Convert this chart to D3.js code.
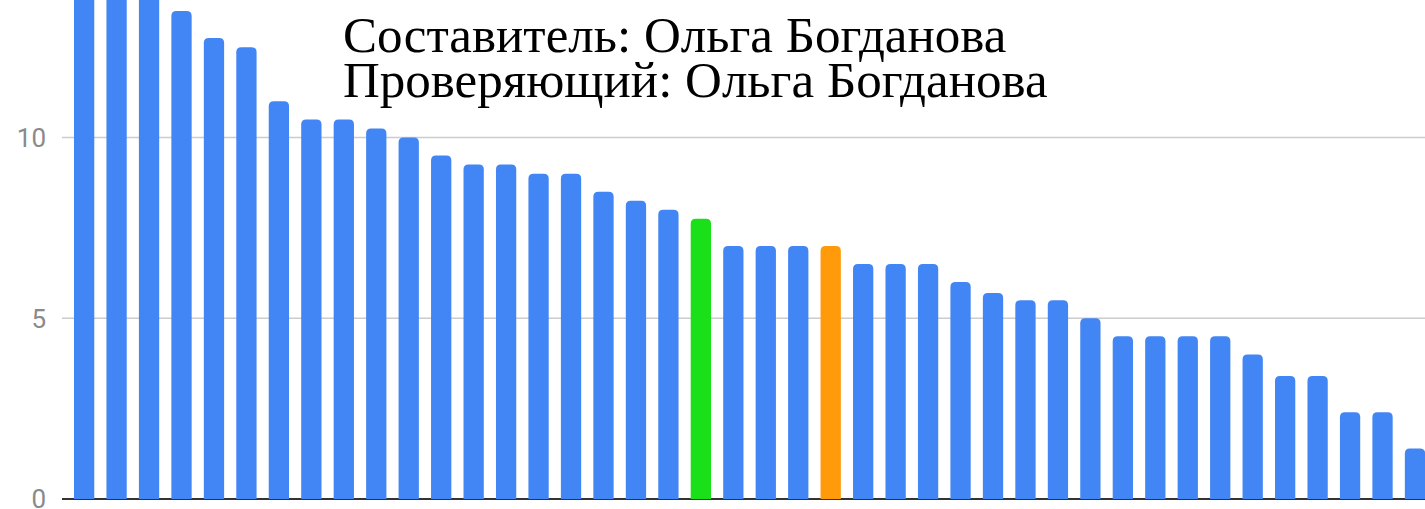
<!DOCTYPE html>
<html>
<head>
<meta charset="utf-8">
<script src="https://cdn.jsdelivr.net/npm/d3@7"></script>
<style>
  html, body { margin: 0; padding: 0; background: #fff; overflow: hidden; }
  svg { display: block; }
</style>
</head>
<body>
<svg id="chart"></svg>
<script>
const WIDTH = 1425;
const HEIGHT = 509;

// one bar per participant, sorted by score
const participants = d3.range(1, 43).map(i => 'П' + i);
const scores = [
  15, 14.5, 14, 13.5, 12.75, 12.5, 11, 10.5, 10.5, 10.25,
  10, 9.5, 9.25, 9.25, 9, 9, 8.5, 8.25, 8, 7.75,
  7, 7, 7, 7, 6.5, 6.5, 6.5, 6, 5.7, 5.5,
  5.5, 5, 4.5, 4.5, 4.5, 4.5, 4, 3.4, 3.4, 2.4,
  2.4, 1.4
];
const highlights = {'П20': '#19e019', 'П24': '#ff9a0a'};
const yTicks = [0, 5, 10];
const titleLines = ['Составитель: Ольга Богданова', 'Проверяющий: Ольга Богданова'];

const data = participants.map((p, i) => ({name: p, score: scores[i]}));

const svg = d3.select('#chart')
  .attr('width', WIDTH)
  .attr('height', HEIGHT);

const x = d3.scaleBand()
  .domain(participants)
  .range([67.9, 67.9 + 42 * 32.46])
  .paddingInner(0.375)
  .paddingOuter(0.1875);

const y = d3.scaleLinear()
  .domain([0, 10])
  .range([499, 137.5]);

// gridlines
svg.append('g')
  .selectAll('line')
  .data(yTicks.filter(t => t !== 0))
  .join('line')
  .attr('x1', 62)
  .attr('x2', WIDTH)
  .attr('y1', d => y(d))
  .attr('y2', d => y(d))
  .attr('stroke', '#cccccc')
  .attr('stroke-width', 1.5);

// baseline
svg.append('line')
  .attr('x1', 62)
  .attr('x2', WIDTH)
  .attr('y1', y(0))
  .attr('y2', y(0))
  .attr('stroke', '#333')
  .attr('stroke-width', 2);

// tick labels
svg.append('g')
  .selectAll('text')
  .data(yTicks)
  .join('text')
  .attr('x', 46)
  .attr('y', d => y(d))
  .attr('dy', '0.36em')
  .attr('text-anchor', 'end')
  .style('font-family', 'Roboto, sans-serif')
  .style('font-size', '26px')
  .style('fill', '#8a8a8a')
  .text(d => d);

// bars with rounded tops
const r = 5;
function barPath(d) {
  const x0 = x(d.name), w = x.bandwidth();
  const y0 = y(d.score), yb = y(0);
  return `M${x0},${yb} L${x0},${y0 + r} Q${x0},${y0} ${x0 + r},${y0}` +
    ` L${x0 + w - r},${y0} Q${x0 + w},${y0} ${x0 + w},${y0 + r} L${x0 + w},${yb} Z`;
}

svg.append('g')
  .selectAll('path')
  .data(data)
  .join('path')
  .attr('d', barPath)
  .attr('fill', d => highlights[d.name] || '#4285f4');

// title
svg.append('g')
  .selectAll('text')
  .data(titleLines)
  .join('text')
  .attr('x', 343)
  .attr('y', (d, i) => 52 + i * 45)
  .style('font-family', '"Liberation Serif", serif')
  .style('font-size', '51px')
  .style('fill', '#000')
  .text(d => d);
</script>
</body>
</html>
